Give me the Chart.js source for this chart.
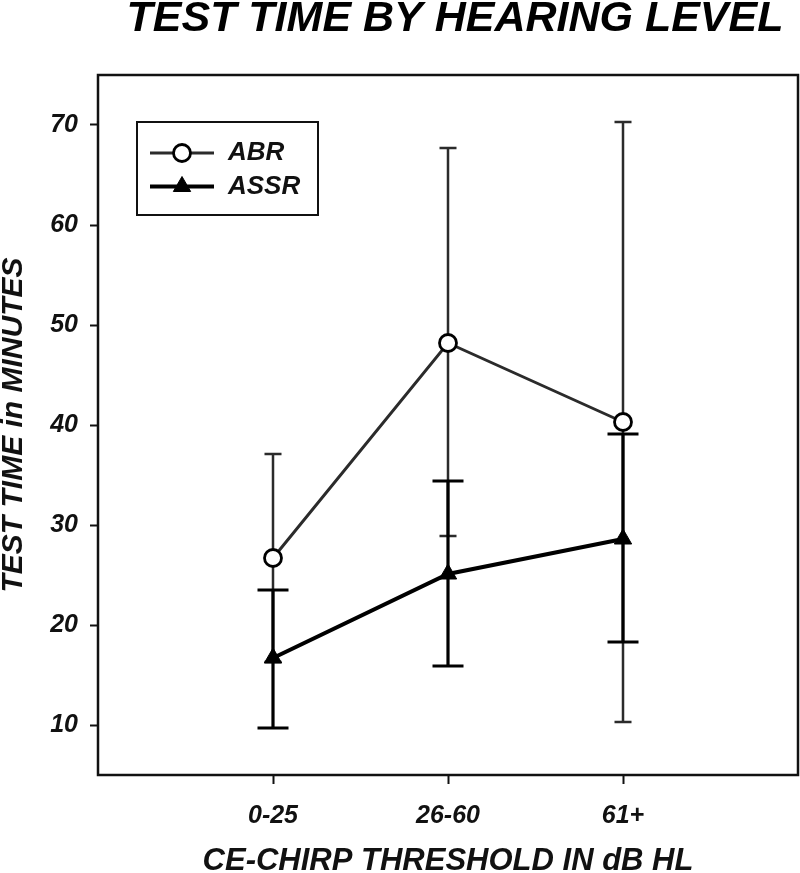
<!DOCTYPE html>
<html>
<head>
<meta charset="utf-8">
<script src="https://cdn.jsdelivr.net/npm/chart.js@4.4.1/dist/chart.umd.min.js"></script>
<style>
    html, body { margin: 0; padding: 0; background: #fff; }
    canvas { display: block; }
</style>
</head>
<body>
<canvas id="test-time-chart" width="800" height="873"></canvas>
<script>
// categories sit at 1..3 on a 0..4 axis, like the original plot
const categories = ["0-25", "26-60", "61+"];
const categoryPositions = [1, 2, 3];
const yTicks = [10, 20, 30, 40, 50, 60, 70];

const abrMeans = [26.7, 48.2, 40.3];
const abrHigh = [37.1, 67.7, 70.3];
const abrLow = [16.3, 28.9, 10.3];

const assrMeans = [16.7, 25.1, 28.6];
const assrHigh = [23.5, 34.4, 39.1];
const assrLow = [9.7, 15.9, 18.3];

const fontFamily = "'Liberation Sans', Arial, sans-serif";
const ink = "#111";

let toPoints = values => values.map((v, i) => ({ x: categoryPositions[i], y: v }));

// box round the plot area; also nudge the title a little right like the original
const plotFrame = {
    id: "plotFrame",
    afterLayout(chart) {
        chart.titleBlock.left += 7;
        chart.titleBlock.right += 7;
    },
    beforeDatasetsDraw(chart) {
        const { ctx, chartArea } = chart;
        ctx.save();
        ctx.strokeStyle = ink;
        ctx.lineWidth = 2.5;
        ctx.strokeRect(chartArea.left, chartArea.top, chartArea.right - chartArea.left, chartArea.bottom - chartArea.top);
        ctx.restore();
    }
};

// vertical error bars with caps, under the lines and markers
const errorBars = {
    id: "errorBars",
    beforeDatasetsDraw(chart) {
        const { ctx, scales: { x, y } } = chart;
        chart.data.datasets.forEach(ds => {
            const err = ds.errorBars;
            ctx.save();
            ctx.strokeStyle = err.color;
            ctx.lineWidth = err.width;
            ds.data.forEach((pt, i) => {
                const px = x.getPixelForValue(pt.x);
                const top = y.getPixelForValue(err.high[i]);
                const bottom = y.getPixelForValue(err.low[i]);
                const half = err.cap / 2;
                ctx.beginPath();
                ctx.moveTo(px, top);
                ctx.lineTo(px, bottom);
                ctx.moveTo(px - half, top);
                ctx.lineTo(px + half, top);
                ctx.moveTo(px - half, bottom);
                ctx.lineTo(px + half, bottom);
                ctx.stroke();
            });
            ctx.restore();
        });
    }
};

// legend in a box inside the plot, line + marker samples
const boxLegend = {
    id: "boxLegend",
    afterDatasetsDraw(chart) {
        const { ctx, chartArea } = chart;
        const left = chartArea.left + 39;
        const top = chartArea.top + 47;
        ctx.save();
        ctx.fillStyle = "#fff";
        ctx.fillRect(left, top, 181, 93);
        ctx.lineWidth = 2;
        ctx.strokeStyle = ink;
        ctx.strokeRect(left, top, 181, 93);
        chart.data.datasets.forEach((ds, i) => {
            const cy = top + 31 + i * 33.5;
            ctx.strokeStyle = ds.borderColor;
            ctx.lineWidth = ds.borderWidth;
            ctx.beginPath();
            ctx.moveTo(left + 13, cy);
            ctx.lineTo(left + 77, cy);
            ctx.stroke();
            ctx.fillStyle = ds.pointBackgroundColor;
            ctx.strokeStyle = ds.pointBorderColor;
            ctx.lineWidth = ds.pointBorderWidth;
            Chart.helpers.drawPoint(ctx, {
                pointStyle: ds.pointStyle,
                radius: ds.pointRadius,
                rotation: 0,
                borderWidth: ds.pointBorderWidth
            }, left + 45, cy);
            ctx.fillStyle = ink;
            ctx.font = "italic bold 26px " + fontFamily;
            ctx.textBaseline = "middle";
            ctx.textAlign = "left";
            ctx.fillText(ds.label, left + 91, cy);
        });
        ctx.restore();
    }
};

const abrDataset = {
    label: "ABR",
    data: toPoints(abrMeans),
    borderColor: "#2b2b2b",
    borderWidth: 3,
    pointStyle: "circle",
    pointRadius: 8.5,
    pointHoverRadius: 8.5,
    pointBackgroundColor: "#fff",
    pointBorderColor: "#000",
    pointBorderWidth: 2.8,
    errorBars: { high: abrHigh, low: abrLow, color: "#2b2b2b", width: 2.5, cap: 17 }
};

const assrDataset = {
    label: "ASSR",
    data: toPoints(assrMeans),
    borderColor: "#000",
    borderWidth: 4,
    pointStyle: "triangle",
    pointRadius: 10,
    pointHoverRadius: 10,
    pointBackgroundColor: "#000",
    pointBorderColor: "#000",
    pointBorderWidth: 1,
    errorBars: { high: assrHigh, low: assrLow, color: "#000", width: 3.2, cap: 31 }
};

const labelFont = size => ({ family: fontFamily, size: size, weight: "bold", style: "italic" });

new Chart(document.getElementById("test-time-chart"), {
    type: "line",
    data: { datasets: [abrDataset, assrDataset] },
    options: {
        responsive: false,
        animation: false,
        layout: { autoPadding: false, padding: { left: 0, right: 2, top: 0, bottom: 0 } },
        plugins: {
            legend: { display: false },
            tooltip: { enabled: false },
            title: {
                display: true,
                text: "TEST TIME BY HEARING LEVEL",
                fullSize: false,
                color: "#000",
                font: { ...labelFont(43), lineHeight: 0.8 },
                padding: { top: 2, bottom: 38.6 }
            }
        },
        scales: {
            x: {
                type: "linear",
                min: 0,
                max: 4,
                afterBuildTicks: scale => {
                    scale.ticks = categoryPositions.map(v => ({ value: v }));
                },
                afterFit: scale => {
                    scale.height = 98;
                    scale.paddingLeft = 0;
                    scale.paddingRight = 0;
                },
                ticks: {
                    callback: value => categories[categoryPositions.indexOf(value)],
                    font: labelFont(25),
                    color: ink,
                    padding: 17,
                    maxRotation: 0
                },
                grid: { drawOnChartArea: false, tickLength: 9, tickWidth: 2, tickColor: ink },
                border: { display: false },
                title: {
                    display: true,
                    text: "CE-CHIRP THRESHOLD IN dB HL",
                    color: ink,
                    font: { ...labelFont(31), lineHeight: 0.75 },
                    padding: 0
                }
            },
            y: {
                min: 5,
                max: 75,
                afterBuildTicks: scale => {
                    scale.ticks = yTicks.map(v => ({ value: v }));
                },
                afterFit: scale => {
                    scale.width = 98;
                    scale.paddingTop = 0;
                    scale.paddingBottom = 0;
                },
                ticks: {
                    font: labelFont(25),
                    color: ink,
                    padding: 12
                },
                grid: { drawOnChartArea: false, tickLength: 8, tickWidth: 2, tickColor: ink },
                border: { display: false },
                title: {
                    display: true,
                    text: "TEST TIME in MINUTES",
                    color: ink,
                    font: { ...labelFont(30), lineHeight: 0.9 },
                    padding: 0
                }
            }
        }
    },
    plugins: [plotFrame, errorBars, boxLegend]
});
</script>
</body>
</html>
